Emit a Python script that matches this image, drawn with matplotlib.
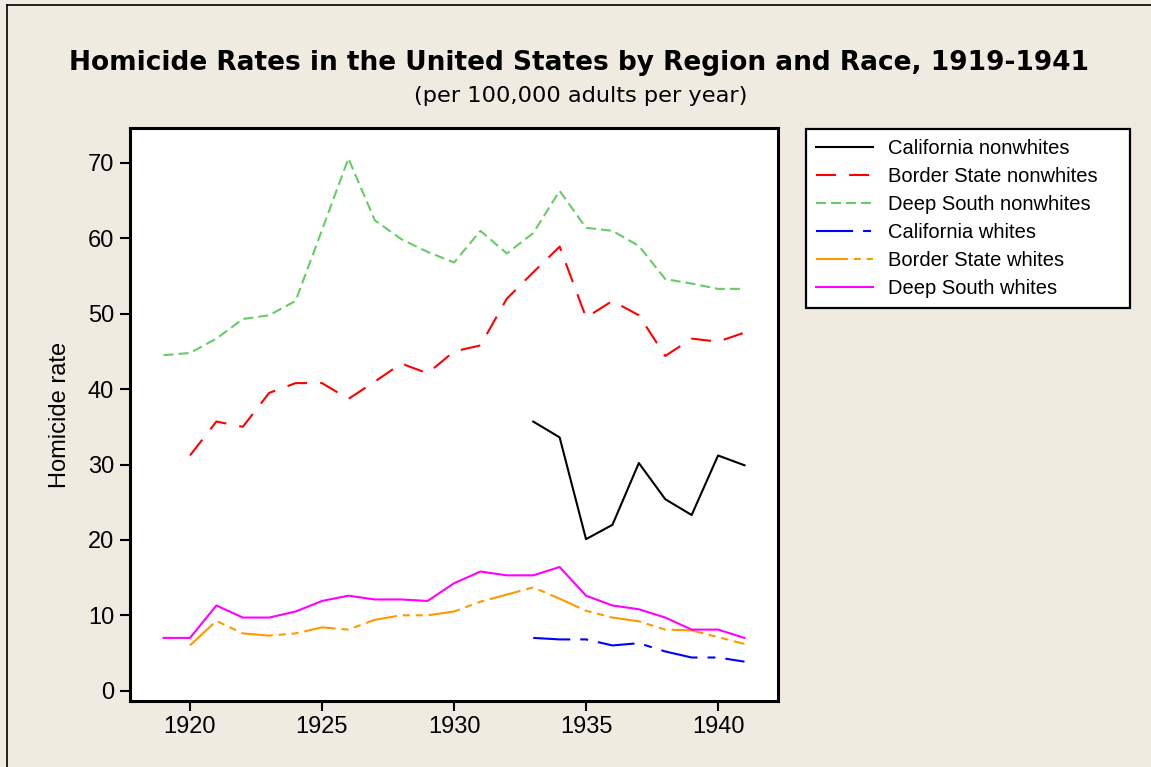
import matplotlib
matplotlib.use("Agg")
import matplotlib.pyplot as plt
from matplotlib.lines import Line2D

plt.rcParams["font.family"] = ["Liberation Sans", "DejaVu Sans"]

# data
years = list(range(1919, 1942))
years_1920 = list(range(1920, 1942))
years_1933 = list(range(1933, 1942))

ca_nonwhite = [35.7, 33.6, 20.1, 22.0, 30.2, 25.4, 23.3, 31.2, 29.9]
border_nonwhite = [31.2, 35.7, 35.0, 39.5, 40.8, 40.8, 38.7, 41.0, 43.4, 42.1, 45.0,
                   45.8, 52.0, 55.5, 58.9, 49.5, 51.7, 49.8, 44.4, 46.7, 46.3, 47.5]
south_nonwhite = [44.5, 44.8, 46.7, 49.3, 49.8, 51.7, 61.1, 70.6, 62.4, 59.9, 58.2, 56.8,
                  61.0, 58.0, 60.7, 66.3, 61.4, 61.0, 59.0, 54.6, 54.0, 53.3, 53.3]
ca_white = [7.0, 6.8, 6.8, 6.0, 6.3, 5.2, 4.4, 4.4, 3.85]
border_white = [6.0, 9.25, 7.6, 7.3, 7.6, 8.4, 8.1, 9.4, 10.0, 10.0, 10.5,
                11.8, 12.75, 13.7, 12.2, 10.6, 9.7, 9.2, 8.1, 8.0, 7.1, 6.2]
south_white = [7.0, 7.0, 11.3, 9.7, 9.7, 10.5, 11.9, 12.6, 12.1, 12.1, 11.9, 14.25,
               15.8, 15.3, 15.3, 16.4, 12.6, 11.3, 10.8, 9.7, 8.1, 8.1, 7.0]

W, H = 1151, 767
bg = "#EFEBE1"

fig = plt.figure(figsize=(W / 100, H / 100), dpi=100, facecolor=bg)
ax = fig.add_axes([129.5 / W, 1 - 701 / H, (778 - 129.5) / W, (701 - 128) / H])
ax.set_facecolor("white")

lw = 1.5
ax.plot(years_1933, ca_nonwhite, color="black", lw=lw, label="California nonwhites")
ax.plot(years_1920, border_nonwhite, color="#FF0000", lw=lw, dashes=(9.6, 6.3),
        label="Border State nonwhites")
ax.plot(years, south_nonwhite, color="#66CC66", lw=lw, dashes=(4.8, 2.4),
        label="Deep South nonwhites")
ax.plot(years_1933, ca_white, color="#0000FF", lw=lw, dashes=(17.8, 4.8, 3.8, 4.8),
        label="California whites")
ax.plot(years_1920, border_white, color="#FF9900", lw=lw, dashes=(15.3, 2.8, 3.4, 2.8, 3.4, 2.8),
        label="Border State whites")
ax.plot(years, south_white, color="#FF00FF", lw=lw, label="Deep South whites")

ax.set_xlim(1917.71, 1942.27)
ax.set_ylim(-1.37, 74.64)
ax.set_xticks([1920, 1925, 1930, 1935, 1940])
ax.set_yticks(range(0, 71, 10))
for s in ax.spines.values():
    s.set_linewidth(2.2)
ax.tick_params(direction="out", length=7, width=1.5, labelsize=17, pad=4, colors="black")
ax.set_ylabel("Homicide rate", fontsize=17, labelpad=12)

# legend box spans x 806..1130, top at y 129 (pixels)
leg = ax.legend(loc="upper left",
                bbox_to_anchor=(806 / W, 1 - 129 / H - 0.01, (1130 - 806) / W, 0.01),
                bbox_transform=fig.transFigure, mode="expand", fontsize=14.5, frameon=True,
                fancybox=False, handlelength=2.85, handletextpad=0.7, labelspacing=0.45,
                borderpad=0.5, borderaxespad=0)
leg.get_frame().set_edgecolor("black")
leg.get_frame().set_facecolor("white")
leg.get_frame().set_alpha(1)
leg.get_frame().set_linewidth(1.6)

fig.text(579 / W, 1 - 70 / H, "Homicide Rates in the United States by Region and Race, 1919-1941",
         ha="center", va="baseline", fontsize=19, fontweight="bold", family="DejaVu Sans")
fig.text(581 / W, 1 - 101.7 / H, "(per 100,000 adults per year)",
         ha="center", va="baseline", fontsize=16.2, family="DejaVu Sans")

# outer frame: only left and top edges visible in the reference
fig.add_artist(Line2D([7 / W, 7 / W], [0, 1 - 5 / H], transform=fig.transFigure,
                      color="black", lw=1.2))
fig.add_artist(Line2D([7 / W, 1], [1 - 5 / H, 1 - 5 / H], transform=fig.transFigure,
                      color="black", lw=1.2))

fig.savefig("out.png", dpi=100, facecolor=bg)
